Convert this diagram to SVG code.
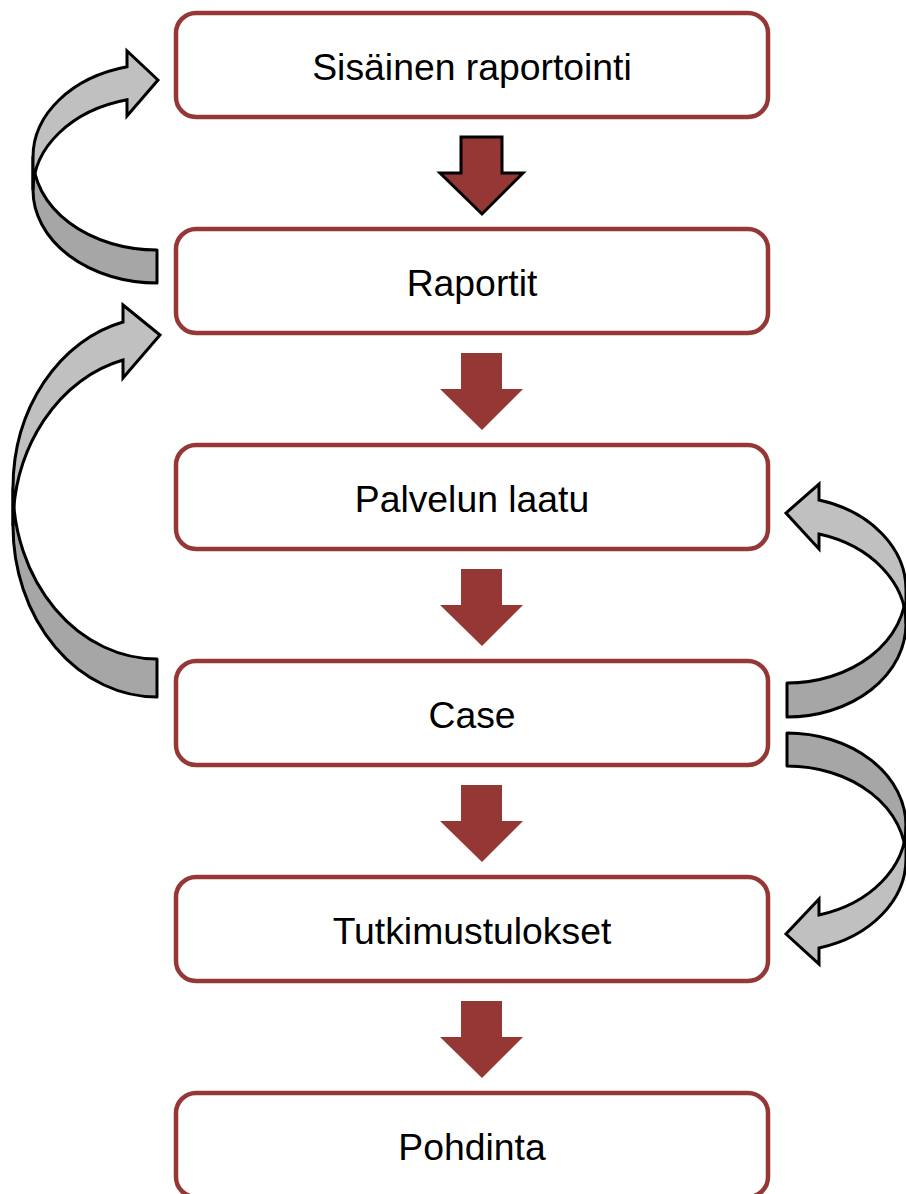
<svg xmlns="http://www.w3.org/2000/svg" xmlns:xlink="http://www.w3.org/1999/xlink" width="906" height="1194" viewBox="0 0 906 1194">
<style>
.box{fill:#ffffff;stroke:#953735;stroke-width:4.5}
.lbl{font-family:"Liberation Sans",Arial,sans-serif;font-size:37.33px;fill:#000000;text-anchor:middle}
.down{fill:#953735}
.down1{fill:#953735;stroke:#000000;stroke-width:3;stroke-linejoin:miter}
.back{fill:#a6a6a6;stroke:#000000;stroke-width:3;stroke-linejoin:round}
.front{fill:#c0c0c0;stroke:#000000;stroke-width:3;stroke-linejoin:miter}
</style>
<defs>
<path id="dn" d="M461,0 H502 V36 H523 L482,77 L440,36 H461 Z"/>
</defs>
<rect width="906" height="1194" fill="#ffffff"/>

<g id="n1"><rect class="box" x="176" y="13" width="592" height="104" rx="20"/><text class="lbl" x="472" y="80">Sisäinen raportointi</text></g>
<g id="n2"><rect class="box" x="176" y="229" width="592" height="104" rx="20"/><text class="lbl" x="472" y="296">Raportit</text></g>
<g id="n3"><rect class="box" x="176" y="445" width="592" height="104" rx="20"/><text class="lbl" x="472" y="512">Palvelun laatu</text></g>
<g id="n4"><rect class="box" x="176" y="661" width="592" height="104" rx="20"/><text class="lbl" x="472" y="728">Case</text></g>
<g id="n5"><rect class="box" x="176" y="877" width="592" height="104" rx="20"/><text class="lbl" x="472" y="944">Tutkimustulokset</text></g>
<g id="n6"><rect class="box" x="176" y="1093" width="592" height="104" rx="20"/><text class="lbl" x="472" y="1160">Pohdinta</text></g>

<g id="connectors">
<use xlink:href="#dn" href="#dn" class="down1" transform="translate(0,137)"/>
<use xlink:href="#dn" href="#dn" class="down" transform="translate(0,353)"/>
<use xlink:href="#dn" href="#dn" class="down" transform="translate(0,569)"/>
<use xlink:href="#dn" href="#dn" class="down" transform="translate(0,785)"/>
<use xlink:href="#dn" href="#dn" class="down" transform="translate(0,1001)"/>

<g id="loop-l1">
<path class="back" d="M157,250 A124,93 0 0 1 33,157 L33,190 A124,93 0 0 0 157,283 Z"/>
<path class="front" d="M33,157 A124,93 0 0 1 127,66.76 L127,51 L158,80 L127,116 L127,99.76 A124,93 0 0 0 33,190 Z"/>
</g>
<g id="loop-l2">
<path class="back" d="M157,659 A144,170.92 0 0 1 13,488.08 L13,526.08 A144,170.92 0 0 0 157,697 Z"/>
<path class="front" d="M13,488.08 A144,170.92 0 0 1 123,322 L123,305 L160,335 L123,378 L123,360 A144,170.92 0 0 0 13,526.08 Z"/>
</g>
<g id="loop-r1">
<path class="back" d="M787,683 A119,93.22 0 0 0 906,589.78 L906,623.78 A119,93.22 0 0 1 787,717 Z"/>
<path class="front" d="M906,589.78 A119,93.22 0 0 0 819,500 L819,484 L786,513 L819,549 L819,534 A119,93.22 0 0 1 906,623.78 Z"/>
</g>
<g id="loop-r2">
<path class="back" d="M787,733 A119,92.71 0 0 1 906,825.71 L906,858.71 A119,92.71 0 0 0 787,766 Z"/>
<path class="front" d="M906,825.71 A119,92.71 0 0 1 819,915 L819,899 L786,934 L819,964 L819,948 A119,92.71 0 0 0 906,858.71 Z"/>
</g>
</g>
</svg>
